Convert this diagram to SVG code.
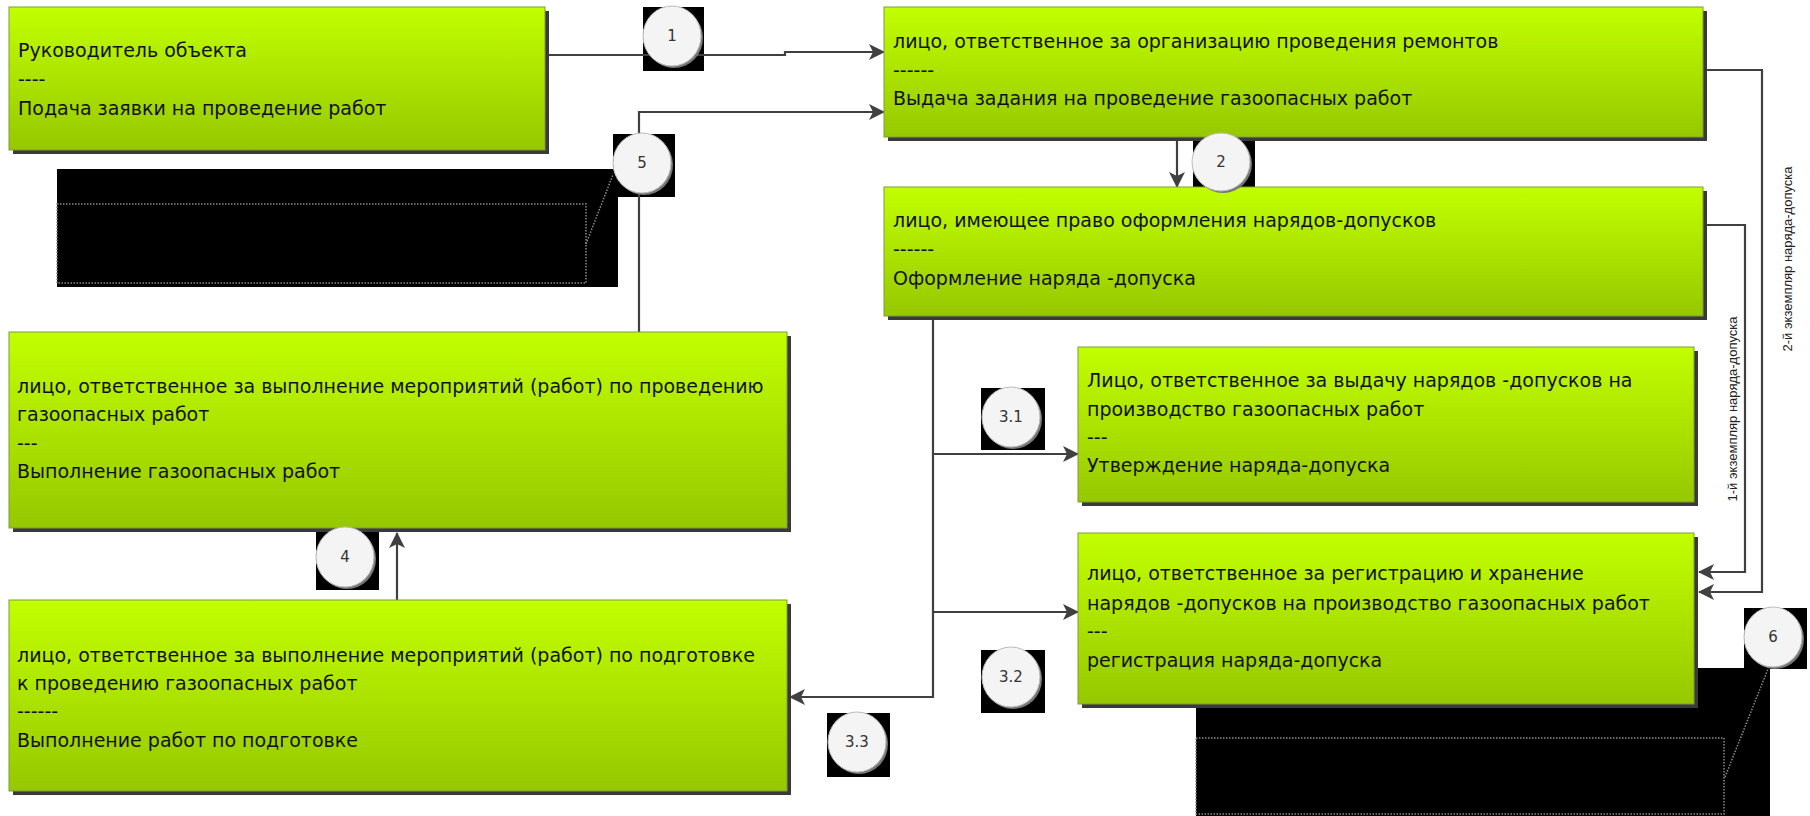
<svg xmlns="http://www.w3.org/2000/svg" width="1810" height="816" viewBox="0 0 1810 816">
<defs>
<linearGradient id="g" x1="0" y1="0" x2="0" y2="1">
<stop offset="0" stop-color="#c2ff00"/>
<stop offset="1" stop-color="#96c800"/>
</linearGradient>
<marker id="ar" viewBox="0 0 16 16" refX="15" refY="8" markerWidth="16" markerHeight="16" markerUnits="userSpaceOnUse" orient="auto">
<path d="M0,0 L16,8 L0,16 L4,8 Z" fill="#404040"/>
</marker>
<style>
.bx{fill:url(#g);stroke:#7f9c3c;stroke-width:1}
.sh{fill:#3a3a3a}
.t{font-family:"DejaVu Sans",Verdana,sans-serif;font-size:19px;fill:#111}
.c{fill:none;stroke:#404040;stroke-width:2.2}
.blk{fill:#000}
.cir{fill:#f4f4f4;stroke:#bbb;stroke-width:1}
.n{font-family:"DejaVu Sans",Verdana,sans-serif;font-size:15px;fill:#333;text-anchor:middle}
.rot{font-family:"Liberation Sans",Arial,sans-serif;font-size:13px;fill:#222;text-anchor:middle}
.dot{fill:none;stroke:#8a8a8a;stroke-width:1.5;stroke-dasharray:1.5 1.5}
</style>
</defs>

<g id="callouts">
<rect class="blk" x="57" y="169" width="561" height="118"/>
<rect class="dot" x="57" y="204" width="529" height="79"/>
<line class="dot" x1="586" y1="244" x2="614" y2="172"/>
<rect class="blk" x="1196" y="668" width="574" height="148"/>
<rect class="dot" x="1196" y="738" width="528" height="76"/>
<line class="dot" x1="1725" y1="777" x2="1768" y2="669"/>
</g>

<g id="badge-bg">
<rect class="blk" x="643" y="7" width="61" height="64"/>
<rect class="blk" x="613" y="134" width="62" height="63"/>
<rect class="blk" x="1193" y="131" width="62" height="62"/>
<rect class="blk" x="316" y="528" width="63" height="62"/>
<rect class="blk" x="981" y="388" width="64" height="62"/>
<rect class="blk" x="981" y="650" width="64" height="63"/>
<rect class="blk" x="827" y="713" width="63" height="64"/>
<rect class="blk" x="1744" y="608" width="63" height="61"/>
</g>

<g id="connectors">
<path class="c" d="M549,55 H785 V52 H884" marker-end="url(#ar)"/>
<path class="c" d="M639,332 V112 H884" marker-end="url(#ar)"/>
<path class="c" d="M1177,141 V187" marker-end="url(#ar)"/>
<path class="c" d="M933,320 V697 H790" marker-end="url(#ar)"/>
<path class="c" d="M933,454 H1078" marker-end="url(#ar)"/>
<path class="c" d="M933,612 H1078" marker-end="url(#ar)"/>
<path class="c" d="M397,600 V533" marker-end="url(#ar)"/>
<path class="c" d="M1707,70 H1762 V592 H1699" marker-end="url(#ar)"/>
<path class="c" d="M1707,225 H1745 V572 H1699" marker-end="url(#ar)"/>
<text class="rot" transform="translate(1787,259) rotate(-90)" y="4.5">2-й экземпляр наряда-допуска</text>
<text class="rot" transform="translate(1732,409) rotate(-90)" y="4.5">1-й экземпляр наряда-допуска</text>
</g>

<g id="node-a">
<rect class="sh" x="13" y="11" width="536" height="143"/>
<rect class="bx" x="9" y="7" width="536" height="143"/>
<text class="t" x="18" y="57">Руководитель объекта</text>
<text class="t" x="18" y="86">----</text>
<text class="t" x="18" y="115">Подача заявки на проведение работ</text>
</g>

<g id="node-b">
<rect class="sh" x="888" y="11" width="819" height="130"/>
<rect class="bx" x="884" y="7" width="819" height="130"/>
<text class="t" x="893" y="48">лицо, ответственное за организацию проведения ремонтов</text>
<text class="t" x="893" y="77">------</text>
<text class="t" x="893" y="105">Выдача задания на проведение газоопасных работ</text>
</g>

<g id="node-c">
<rect class="sh" x="888" y="191" width="819" height="129"/>
<rect class="bx" x="884" y="187" width="819" height="129"/>
<text class="t" x="893" y="227">лицо, имеющее право оформления нарядов-допусков</text>
<text class="t" x="893" y="256">------</text>
<text class="t" x="893" y="285">Оформление наряда -допуска</text>
</g>

<g id="node-d">
<rect class="sh" x="1082" y="351" width="616" height="155"/>
<rect class="bx" x="1078" y="347" width="616" height="155"/>
<text class="t" x="1087" y="387">Лицо, ответственное за выдачу нарядов -допусков на</text>
<text class="t" x="1087" y="416">производство газоопасных  работ</text>
<text class="t" x="1087" y="444">---</text>
<text class="t" x="1087" y="472">Утверждение наряда-допуска</text>
</g>

<g id="node-f">
<rect class="sh" x="1082" y="537" width="616" height="171"/>
<rect class="bx" x="1078" y="533" width="616" height="171"/>
<text class="t" x="1087" y="580">лицо, ответственное за регистрацию и хранение</text>
<text class="t" x="1087" y="610">нарядов -допусков на производство газоопасных работ</text>
<text class="t" x="1087" y="638">---</text>
<text class="t" x="1087" y="667">регистрация наряда-допуска</text>
</g>

<g id="node-e">
<rect class="sh" x="13" y="336" width="778" height="196"/>
<rect class="bx" x="9" y="332" width="778" height="196"/>
<text class="t" x="17" y="393">лицо, ответственное за выполнение мероприятий (работ) по проведению</text>
<text class="t" x="17" y="421">газоопасных работ</text>
<text class="t" x="17" y="450">---</text>
<text class="t" x="17" y="478">Выполнение газоопасных работ</text>
</g>

<g id="node-g">
<rect class="sh" x="13" y="604" width="778" height="191"/>
<rect class="bx" x="9" y="600" width="778" height="191"/>
<text class="t" x="17" y="662">лицо, ответственное за выполнение мероприятий (работ) по подготовке</text>
<text class="t" x="17" y="690">к проведению газоопасных работ</text>
<text class="t" x="17" y="718">------</text>
<text class="t" x="17" y="747">Выполнение работ по подготовке</text>
</g>

<g id="badges">
<g id="badge-1"><ellipse cx="674" cy="38" rx="29" ry="30" fill="#777"/><ellipse class="cir" cx="672" cy="36" rx="29" ry="30"/><text class="n" x="672" y="41">1</text></g>
<g id="badge-5"><ellipse cx="644" cy="165" rx="29" ry="30" fill="#777"/><ellipse class="cir" cx="642" cy="163" rx="29" ry="30"/><text class="n" x="642" y="168">5</text></g>
<g id="badge-2"><ellipse cx="1223" cy="164" rx="29" ry="29" fill="#777"/><ellipse class="cir" cx="1221" cy="162" rx="29" ry="29"/><text class="n" x="1221" y="167">2</text></g>
<g id="badge-4"><ellipse cx="347" cy="559" rx="29" ry="30" fill="#777"/><ellipse class="cir" cx="345" cy="557" rx="29" ry="30"/><text class="n" x="345" y="562">4</text></g>
<g id="badge-31"><ellipse cx="1013" cy="419" rx="29" ry="30" fill="#777"/><ellipse class="cir" cx="1011" cy="417" rx="29" ry="30"/><text class="n" x="1011" y="422">3.1</text></g>
<g id="badge-32"><ellipse cx="1013" cy="679" rx="29" ry="30" fill="#777"/><ellipse class="cir" cx="1011" cy="677" rx="29" ry="30"/><text class="n" x="1011" y="682">3.2</text></g>
<g id="badge-33"><ellipse cx="859" cy="744" rx="29" ry="30" fill="#777"/><ellipse class="cir" cx="857" cy="742" rx="29" ry="30"/><text class="n" x="857" y="747">3.3</text></g>
<g id="badge-6"><ellipse cx="1775" cy="639" rx="29" ry="30" fill="#777"/><ellipse class="cir" cx="1773" cy="637" rx="29" ry="30"/><text class="n" x="1773" y="642">6</text></g>
</g>
</svg>
